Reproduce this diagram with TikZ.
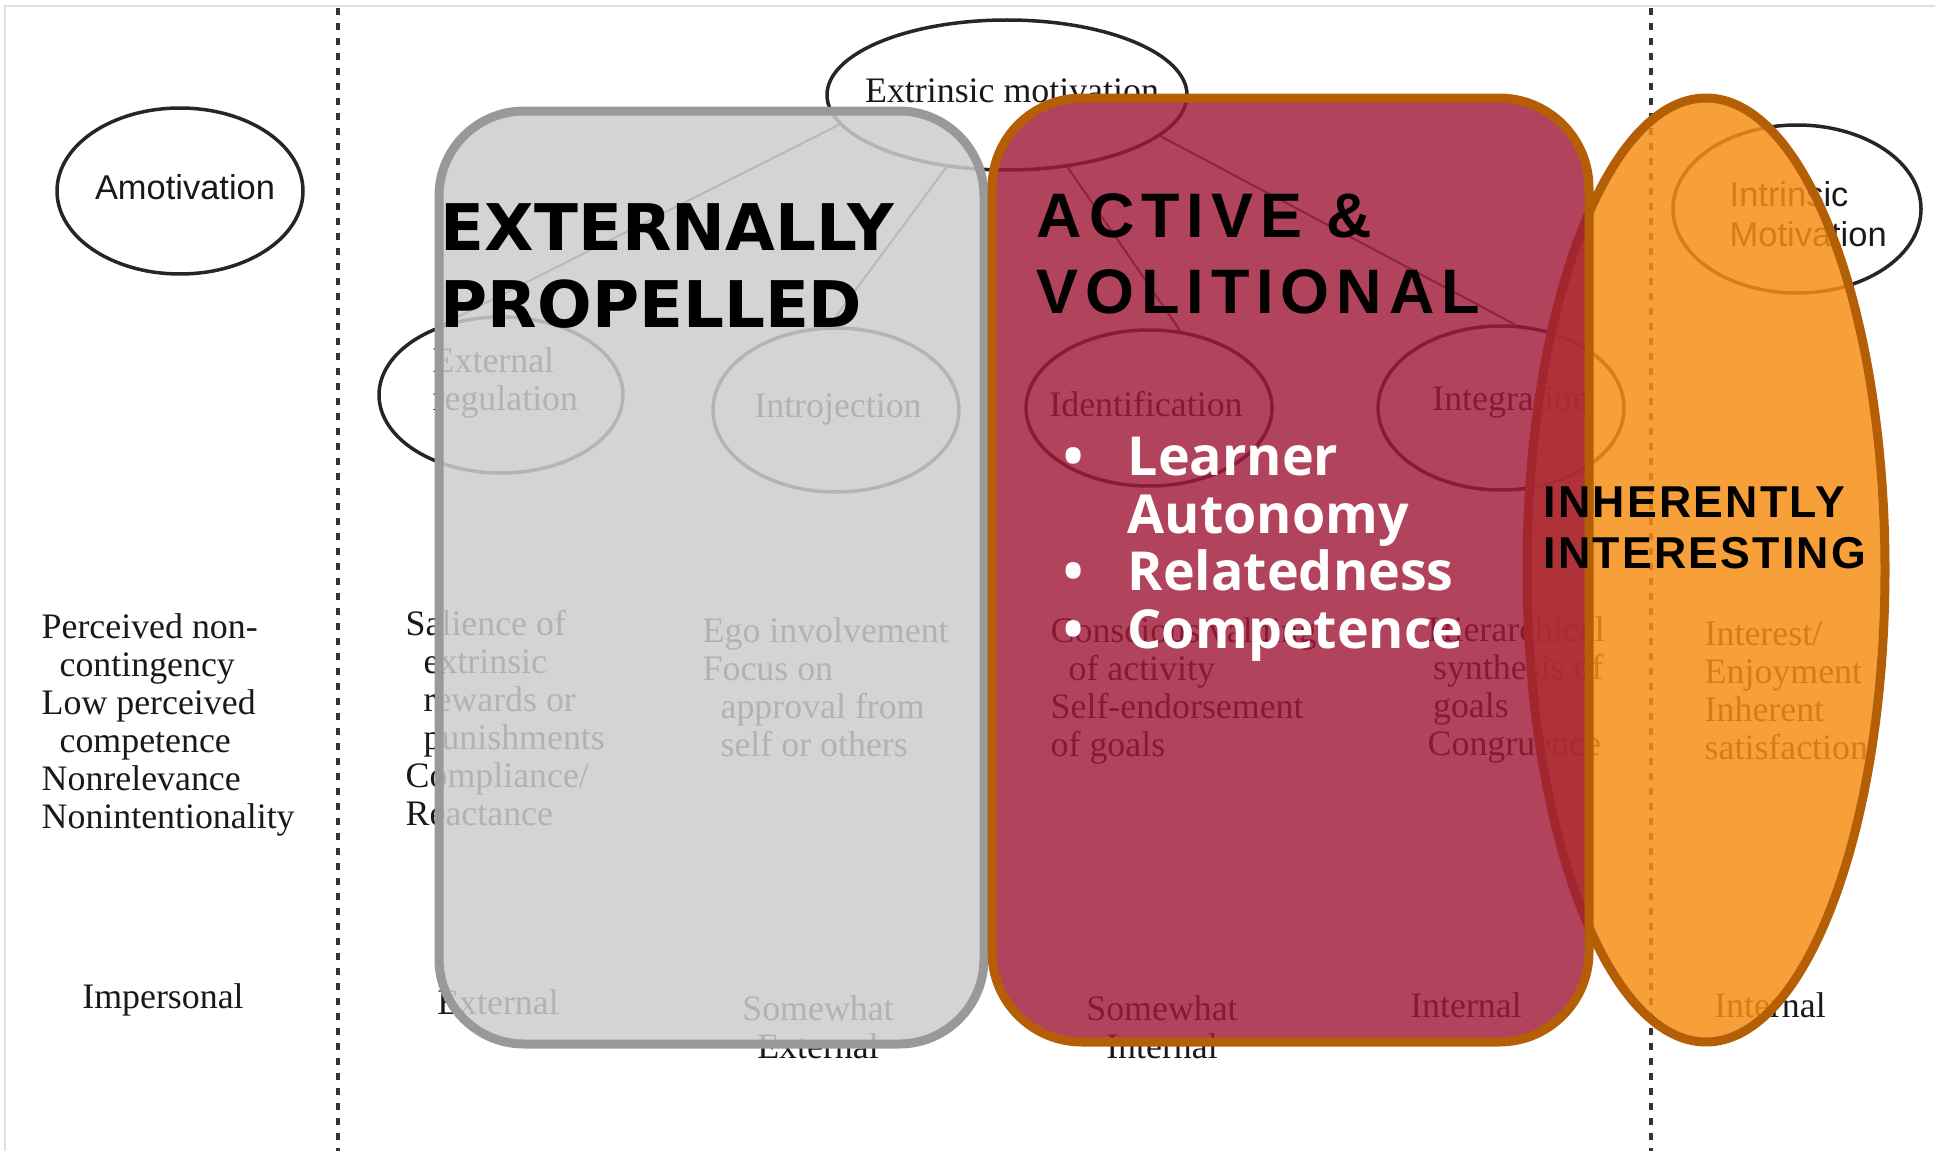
\documentclass[tikz,border=0pt]{standalone}
\usepackage{fontspec}
\setmainfont{Liberation Serif}
\newfontfamily\plainsans{Liberation Sans}
\newfontfamily\widesans{DejaVu Sans}
\newfontfamily\spacedsans{Liberation Sans}[LetterSpace=11]
\newfontfamily\tightsans{Liberation Sans}[LetterSpace=5]
\newfontfamily\needsans{Open Sans}
\usetikzlibrary{shapes.geometric}
\definecolor{boxgray}{RGB}{205,205,205}
\definecolor{boxgrayrim}{RGB}{153,153,153}
\definecolor{volired}{RGB}{160,26,56}
\definecolor{inhorange}{RGB}{246,142,22}
\definecolor{rimbrown}{RGB}{180,95,5}
\definecolor{framebeige}{RGB}{228,223,213}
\tikzset{
  frame/.style={draw=framebeige, line width=0.25mm},
  divider/.style={draw=black!80, line width=0.35mm, dash pattern=on 0.7mm off 0.8mm},
  bg-ellipse/.style={ellipse, draw=black!85, line width=0.35mm, inner sep=0pt},
  link/.style={draw=black!70, line width=0.2mm},
  bg-text/.style={font=\fontsize{10.2}{10.8}\selectfont, text=black!90, inner sep=0pt},
  bg-block/.style={bg-text, align=left, anchor=base west},
  locus/.style={bg-text, align=center, anchor=base},
  sans-label/.style={font=\plainsans\fontsize{9.8}{11.4}\selectfont, text=black!90, inner sep=0pt},
  region/.style={line width=0.9mm, inner sep=0pt},
  propelled-box/.style={region, rounded corners=8.5mm, draw=boxgrayrim, fill=boxgray, fill opacity=0.85},
  volitional-box/.style={region, rounded corners=9mm, draw=rimbrown, fill=volired, fill opacity=0.82},
  inherent-oval/.style={region, ellipse, draw=rimbrown, fill=inhorange, fill opacity=0.85},
  heading/.style={inner sep=0pt, align=left, anchor=base west, text=black},
  need/.style={inner sep=0pt, align=left, anchor=base west, text=white,
    font=\needsans\bfseries\fontsize{15.3}{16.4}\selectfont}
}
\newcommand{\ind}{\hspace*{0.5em}}

\begin{document}
\begin{tikzpicture}[x=0.1mm, y=-0.1mm]
  \useasboundingbox (0,0) rectangle (1935,1151);
  \draw[frame] (5,1151) -- (5,6) -- (1935,6);
  % Column dividers
  \draw[divider] (338,8) -- (338,1151);
  \draw[divider] (1651,8) -- (1651,1151);

  % Motivation types
  \node[bg-ellipse, minimum width=24.6mm, minimum height=16.6mm] (amo) at (180,191) {};
  \node[bg-ellipse, minimum width=36mm, minimum height=15mm] (extr) at (1007,95) {};
  \node[bg-ellipse, minimum width=24.8mm, minimum height=16.8mm] (intr) at (1797,209) {};
  \node[bg-ellipse, minimum width=24.4mm, minimum height=15.6mm] (extreg) at (501,395) {};
  \node[bg-ellipse, minimum width=24.6mm, minimum height=16.4mm] (introj) at (836,410) {};
  \node[bg-ellipse, minimum width=24.6mm, minimum height=15.6mm] (ident) at (1149,408) {};
  \node[bg-ellipse, minimum width=24.6mm, minimum height=16.4mm] (integ) at (1501,408) {};

  \draw[link] (extr.190) -- (extreg.130);
  \draw[link] (extr.230) -- (introj.95);
  \draw[link] (extr.310) -- (ident.68);
  \draw[link] (extr.345) -- (integ.80);

  % (multi-line nodes sit on their last baseline)
  \node[sans-label] (amo-txt) at (185,187) {Amotivation};
  \node[bg-text, anchor=base] (extr-txt) at (1012,103) {Extrinsic motivation};
  \node[sans-label, align=left, anchor=base west] (intr-txt) at (1729,247) {Intrinsic\\Motivation};
  \node[bg-block] (extreg-txt) at (432,410) {External\\regulation};
  \node[bg-text, anchor=base] (introj-txt) at (838,417) {Introjection};
  \node[bg-text, anchor=base] (ident-txt) at (1146,416) {Identification};
  \node[bg-text, anchor=base] (integ-txt) at (1511,410) {Integration};

  % Regulatory processes
  \node[bg-block] (amo-proc) at (41,828)
    {Perceived non-\\\ind contingency\\Low perceived\\\ind competence\\Nonrelevance\\Nonintentionality};
  \node[bg-block] (extreg-proc) at (405,825)
    {Salience of\\\ind extrinsic\\\ind rewards or\\\ind punishments\\Compliance/\\Reactance};
  \node[bg-block] (introj-proc) at (702,756)
    {Ego involvement\\Focus on\\\ind approval from\\\ind self or others};
  \node[bg-block] (ident-proc) at (1050,756)
    {Conscious valuing\\\ind of activity\\Self-endorsement\\of goals};
  \node[bg-block] (integ-proc) at (1427,755)
    {Hierarchical\\\hspace*{0.15em}synthesis of\\\hspace*{0.15em}goals\\Congruence};
  \node[bg-block] (intr-proc) at (1704,759)
    {Interest/\\Enjoyment\\Inherent\\satisfaction};

  % Locus of causality
  \node[locus] (amo-locus) at (163,1008) {Impersonal};
  \node[locus] (extreg-locus) at (498,1014) {External};
  \node[locus] (introj-locus) at (818,1058) {Somewhat\\External};
  \node[locus] (ident-locus) at (1162,1058) {Somewhat\\Internal};
  \node[locus] (integ-locus) at (1466,1017) {Internal};
  \node[locus] (intr-locus) at (1770,1017) {Internal};

  % Overlay regions
  \node[propelled-box, minimum width=54.5mm, minimum height=93.3mm] (propelled) at (711.5,577.5) {};
  \node[inherent-oval, minimum width=35.8mm, minimum height=94.4mm] (inherent) at (1706,570) {};
  \node[volitional-box, minimum width=59.7mm, minimum height=94.4mm] (volitional) at (1290.5,570) {};

  \node[heading, font=\widesans\bfseries\fontsize{18.3}{21.9}\selectfont] (propelled-txt) at (440,327)
    {EXTERNALLY\\PROPELLED};
  \node[heading, font=\spacedsans\bfseries\fontsize{17.9}{21.6}\selectfont] (volitional-txt) at (1036,313)
    {ACTIVE \&\\VOLITIONAL};
  \node[heading, font=\tightsans\bfseries\fontsize{12.7}{14.5}\selectfont] (inherent-txt) at (1543,568)
    {INHERENTLY\\INTERESTING};

  % Needs
  \node[need] (need-1) at (1127,533) {Learner\\Autonomy};
  \node[need] (need-2) at (1127,590) {Relatedness};
  \node[need] (need-3) at (1127,648) {Competence};
  \foreach \n/\y in {1/475, 2/590, 3/648}
    \node[need, anchor=base] (dot-\n) at (1074,\y) {•};
\end{tikzpicture}
\end{document}
